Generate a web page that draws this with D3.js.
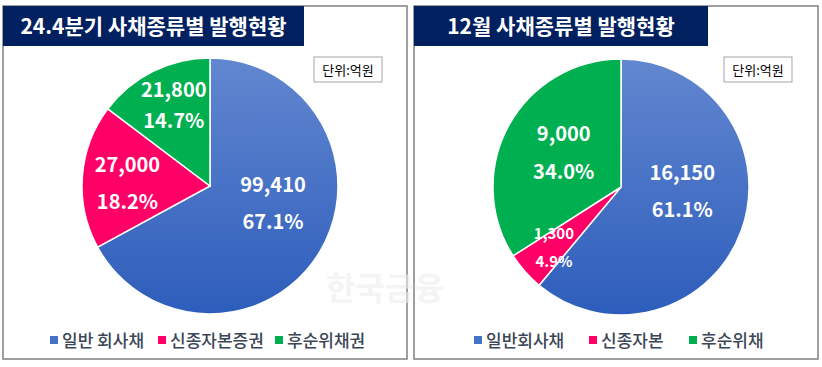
<!DOCTYPE html>
<html>
<head>
<meta charset="utf-8">
<script src="https://cdn.jsdelivr.net/npm/d3@7"></script>
<style>
  body { margin: 0; background: #fff; }
  svg text { font-family: "Noto Sans CJK KR", "Noto Sans", sans-serif; }
</style>
</head>
<body>
<svg id="chart" width="822" height="367"></svg>
<script>
// 데이터
const categoriesLeft = ["일반 회사채", "신종자본증권", "후순위채권"];
const valuesLeft = [99410, 27000, 21800];
const categoriesRight = ["일반회사채", "신종자본", "후순위채"];
const valuesRight = [16150, 1300, 9000];
const titles = ["24.4분기 사채종류별 발행현황", "12월 사채종류별 발행현황"];
const unitLabel = "단위:억원";

const colors = ["url(#blueGrad)", "#FF0066", "#00B050"];
const legendColors = ["#4472C4", "#FF0066", "#00B050"];

const svg = d3.select("#chart");

// 파란색 그라데이션
const defs = svg.append("defs");
const grad = defs.append("linearGradient")
  .attr("id", "blueGrad")
  .attr("x1", 0).attr("y1", 0).attr("x2", 0).attr("y2", 1);
grad.append("stop").attr("offset", "0%").attr("stop-color", "#6287D0");
grad.append("stop").attr("offset", "100%").attr("stop-color", "#2D5DBB");

const panels = [
  {
    x: 3, w: 404, titleW: 301, title: titles[0],
    cats: categoriesLeft, vals: valuesLeft,
    cx: 210, cy: 186, r: 128,
    bigFont: [20, 20, 20], lineGap: [37, 37, 31],
    labelR: [0.6, 0.6, 0.6],
    nudge: [[-3, -22], [-6, 3], [-2, -12]],
    unitX: 314,
    legendX: [50, 158, 275], legendGap: 12
  },
  {
    x: 414, w: 404, titleW: 294, title: titles[1],
    cats: categoriesRight, vals: valuesRight,
    cx: 621, cy: 187, r: 128,
    bigFont: [20, 15, 20], lineGap: [37, 28, 38],
    labelR: [0.6, 0.75, 0.6],
    nudge: [[-11, -22], [5, -3], [10, 3]],
    unitX: 724,
    legendX: [474, 589, 689], legendGap: 12
  }
];

panels.forEach((p) => {
  const g = svg.append("g");

  // 외곽 테두리
  g.append("rect")
    .attr("x", p.x).attr("y", 6)
    .attr("width", p.w).attr("height", 353)
    .attr("fill", "#fff")
    .attr("stroke", "#808080")
    .attr("stroke-width", 1.5);

  // 제목 박스
  g.append("rect")
    .attr("x", p.x).attr("y", 6)
    .attr("width", p.titleW).attr("height", 40)
    .attr("fill", "#002060");
  g.append("text")
    .attr("x", p.x + p.titleW / 2).attr("y", 26)
    .attr("dy", "0.36em")
    .attr("text-anchor", "middle")
    .attr("fill", "#fff")
    .attr("font-size", 21)
    .attr("font-weight", 700)
    .text(p.title);

  // 파이
  const total = d3.sum(p.vals);
  const pie = d3.pie().sort(null).value((d) => d);
  const arcs = pie(p.vals);
  const arc = d3.arc().innerRadius(0).outerRadius(p.r);

  const pieG = g.append("g").attr("transform", `translate(${p.cx},${p.cy})`);

  pieG.selectAll("path")
    .data(arcs)
    .enter()
    .append("path")
    .attr("d", arc)
    .attr("fill", (d, i) => colors[i])
    .attr("stroke", "#fff")
    .attr("stroke-width", 1.5);

  // 라벨
  arcs.forEach((d, i) => {
    const lr = p.r * p.labelR[i];
    const c = d3.arc().innerRadius(lr).outerRadius(lr).centroid(d);
    const lx = c[0] + p.nudge[i][0];
    const ly = c[1] + p.nudge[i][1];
    const gap = p.lineGap[i];
    const t = pieG.append("text")
      .attr("text-anchor", "middle")
      .attr("fill", "#fff")
      .attr("font-size", p.bigFont[i])
      .attr("font-weight", 700);
    t.append("tspan")
      .attr("x", lx).attr("y", ly - gap / 2)
      .attr("dy", "0.36em")
      .text(d3.format(",")(d.data));
    t.append("tspan")
      .attr("x", lx).attr("y", ly + gap / 2)
      .attr("dy", "0.36em")
      .text(d3.format(".1%")(d.data / total));
  });

  // 단위 박스
  g.append("rect")
    .attr("x", p.unitX).attr("y", 57)
    .attr("width", 68).attr("height", 25)
    .attr("fill", "#fff")
    .attr("stroke", "#a6a6a6")
    .attr("stroke-width", 1);
  g.append("text")
    .attr("x", p.unitX + 34).attr("y", 70)
    .attr("dy", "0.36em")
    .attr("text-anchor", "middle")
    .attr("fill", "#000")
    .attr("font-size", 13)
    .text(unitLabel);

  // 범례
  p.cats.forEach((name, i) => {
    g.append("rect")
      .attr("x", p.legendX[i]).attr("y", 336)
      .attr("width", 8).attr("height", 8)
      .attr("fill", legendColors[i]);
    g.append("text")
      .attr("x", p.legendX[i] + p.legendGap).attr("y", 341)
      .attr("dy", "0.36em")
      .attr("fill", "#3B4656")
      .attr("font-size", 17)
      .attr("font-weight", 500)
      .text(name);
  });
});

// 워터마크
svg.append("text")
  .attr("x", 385).attr("y", 300)
  .attr("text-anchor", "middle")
  .attr("fill", "#eeeeee")
  .attr("opacity", 0.6)
  .attr("font-size", 32)
  .attr("font-weight", 700)
  .text("한국금융");
</script>
</body>
</html>
